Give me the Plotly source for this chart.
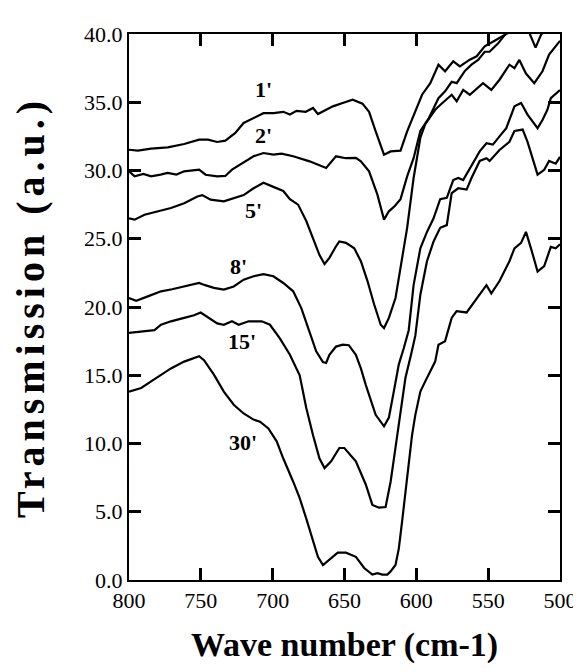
import plotly.graph_objects as go

# ---- data ----
x_1 = [800, 793.8, 784.6, 773, 761.6, 751.2, 745, 738.6, 732.9, 726, 720.2, 713.3, 706.4, 699.5,
       692.6, 688, 683.4, 677, 671.9, 668.5, 664, 658.1, 651.3, 644.3, 637.5, 632.9, 628.3, 622.5,
       617.9, 611, 606.4, 599.5, 596, 590.3, 584.6, 580, 574.3, 569.7, 562.8, 558, 552.4, 545.5,
       540.9, 536.3, 530, 524, 517, 510, 500]
y_1 = [31.52, 31.45, 31.6, 31.7, 31.94, 32.26, 32.26, 32.09, 32.19, 32.75, 33.48, 33.85, 34.2, 34.2,
       34.3, 34.1, 34.37, 34.3, 34.58, 34.14, 34.4, 34.7, 34.95, 35.19, 34.9, 34.3, 32.87, 31.16,
       31.4, 31.45, 32.87, 34.58, 35.55, 36.4, 37.75, 37.27, 38.0, 37.63, 38.12, 38.37, 39.1, 39.5,
       39.8, 40.07, 40.8, 41.3, 40.4, 41.2, 41.6]

x_2 = [800, 796.1, 790, 784.6, 778, 773.1, 767, 761.6, 751.2, 746.7, 738.6, 733, 728.3, 722.5,
       713.3, 706.4, 699.5, 693.8, 685.7, 674.3, 662.8, 655.9, 649, 642.1, 638.6, 632.9, 627.1,
       622.5, 619.1, 615, 611, 606.4, 601.9, 597.2, 591.5, 584.6, 580, 575.4, 571.9, 566.2, 561.6,
       557, 552.4, 549, 543.2, 537.4, 530, 524, 521, 517, 513, 508, 500]
y_2 = [29.94, 29.57, 29.75, 29.57, 29.7, 29.82, 29.7, 29.94, 30.06, 29.69, 29.57, 29.6, 30.06, 30.43,
       31.04, 31.28, 31.16, 31.23, 31.04, 30.67, 30.18, 31.04, 30.9, 30.92, 30.67, 29.94, 28.23,
       26.4, 27.01, 27.4, 27.9, 29.57, 30.9, 32.9, 33.8, 35.3, 35.8, 36.5, 36.4, 37.3, 37.75,
       38.1, 38.7, 38.7, 39.3, 40.07, 40.5, 40.6, 40.0, 39.0, 40.0, 40.3, 40.6]

x_5 = [800, 796.1, 789.2, 780, 770.8, 761.6, 752.4, 749, 743.2, 734, 727.1, 720.2, 713.3, 706.4,
       699.5, 692.6, 688, 682.3, 676.6, 671.9, 667.4, 663.9, 660.5, 655.9, 653.6, 649, 643.2, 638.6,
       634, 629.4, 624.8, 622.5, 619.1, 614.5, 611, 606.4, 601.9, 597.2, 593.8, 586.9, 583.4, 578.8,
       575.4, 571.9, 567.4, 562.8, 558.1, 553.6, 547.8, 542.1, 535.2, 531.7, 528.3, 523.7, 517.9,
       512.2, 507.6, 504, 500]
y_5 = [26.5, 26.4, 26.76, 27.0, 27.25, 27.6, 28.1, 28.2, 27.86, 27.74, 27.98, 28.2, 28.7, 29.1,
       28.8, 28.5, 27.9, 27.5, 26.3, 25.05, 23.8, 23.15, 23.6, 24.45, 24.8, 24.7, 24.3, 23.35,
       21.9, 20.2, 18.7, 18.46, 19.2, 20.66, 23.0, 25.8, 29.45, 32.4, 33.4, 34.45, 34.8, 35.2,
       35.55, 35.07, 35.9, 35.55, 36.0, 36.4, 35.9, 36.65, 37.75, 37.5, 38.1, 37.1, 36.4,
       37.27, 38.5, 39.0, 39.5]

x_8 = [800, 795, 786.9, 777.7, 770, 761.6, 751.2, 747, 740.9, 734, 727.1, 720.2, 713.3, 706.4,
       699.5, 692.6, 685.7, 680, 674.3, 669.7, 665, 662.8, 660.5, 655.9, 651.2, 647, 642.1, 638.6,
       635.2, 632.9, 628.3, 622.5, 619.1, 615.7, 612.2, 608.7, 605.3, 601.9, 597.2, 592.6, 588,
       583.4, 578.8, 574.3, 570.8, 567.4, 561.6, 555.9, 551.2, 546.7, 542.1, 537.4, 531.7, 527.1,
       522.6, 515.6, 512.2, 508.8, 506.4, 504, 500]
y_8 = [20.66, 20.46, 20.78, 21.15, 21.3, 21.5, 21.76, 21.6, 21.4, 21.27, 21.5, 22.0, 22.25, 22.4,
       22.25, 21.76, 21.15, 19.9, 18.2, 16.75, 15.97, 15.9, 16.5, 17.1, 17.24, 17.2, 16.5, 15.5,
       14.3, 13.6, 12.1, 11.26, 11.9, 13.8, 15.8, 17.0, 18.3, 21.6, 24.3, 25.5, 26.5,
       27.9, 28.0, 29.3, 29.45, 29.3, 30.4, 31.4, 32.0, 31.9, 32.5, 33.1, 34.7, 34.95,
       34.1, 33.1, 33.7, 34.45, 35.3, 35.55, 35.9]

x_15 = [800, 791.5, 782.3, 777.7, 770.8, 761.6, 754.7, 750.1, 745.5, 738.6, 734, 728.3, 723.7,
        716.8, 707.6, 701.9, 695, 688, 681.2, 676.6, 671.9, 667.4, 663.9, 659.3, 653.6, 650.1,
        642.1, 635.2, 630.6, 626, 621.4, 617.9, 614.5, 611, 607.6, 603.5, 600.7, 597.2, 592.6,
        588, 583.4, 578.8, 575.4, 570.8, 565, 561.6, 555.9, 551.2, 549, 542.1, 535.2, 531.7, 526,
        522.6, 515.6, 511, 507.6, 503, 500]
y_15 = [18.1, 18.2, 18.3, 18.7, 18.95, 19.2, 19.4, 19.6, 19.3, 18.8, 18.7, 18.95, 18.7,
        18.95, 18.95, 18.7, 17.7, 16.5, 15.0, 12.6, 10.6, 8.9, 8.2, 8.7, 9.67, 9.67,
        8.7, 7.0, 5.5, 5.3, 5.35, 7.2, 9.7, 12.3, 14.8, 16.6, 17.9, 20.9, 23.35,
        24.8, 25.8, 26.0, 28.35, 28.7, 28.6, 29.45, 30.7, 30.9, 30.7, 31.5, 32.1, 32.9, 33.0,
        32.1, 29.7, 30.05, 30.7, 30.5, 31.0]

x_30 = [800, 791.5, 784.6, 777.7, 770.8, 761.6, 751.2, 747.8, 740.9, 734, 727.1, 720.2, 713.3,
        708.8, 703, 697.2, 692.6, 685.7, 681.2, 676.6, 672, 668.5, 665, 660.5, 654.7, 649, 642.1,
        636.3, 632.9, 630.6, 627.1, 623.6, 620.2, 617.9, 614.5, 612.2, 609.9, 607.6, 605.3, 603,
        600.7, 597.2, 593.8, 586.9, 584.6, 580, 575.4, 572, 565, 555.9, 551.2, 547.8, 542.1, 535.2,
        531.7, 527.1, 523.7, 520.2, 515.6, 511, 506.4, 503, 500]
y_30 = [13.8, 14.07, 14.55, 15.04, 15.5, 16.0, 16.4, 16.1, 15.04, 13.8, 12.84, 12.2, 11.75,
        11.6, 11.1, 10.16, 8.9, 7.2, 6.0, 4.5, 2.8, 1.7, 1.1, 1.5, 2.0, 2.0, 1.7,
        0.88, 0.63, 0.4, 0.5, 0.4, 0.4, 0.63, 1.1, 2.3, 4.3, 6.5, 8.7, 10.6,
        12.1, 13.8, 14.55, 16.0, 17.24, 17.5, 19.2, 19.7, 19.6, 20.9, 21.6, 21.0, 21.9, 23.35,
        24.3, 24.7, 25.5, 24.3, 22.6, 23.0, 24.4, 24.3, 24.6]

series = [("1'", x_1, y_1), ("2'", x_2, y_2), ("5'", x_5, y_5),
          ("8'", x_8, y_8), ("15'", x_15, y_15), ("30'", x_30, y_30)]

# curve labels: text, x, y
label_text = ["1'", "2'", "5'", "8'", "15'", "30'"]
label_x = [706.4, 706.4, 713.3, 723.7, 721.4, 720.7]
label_y = [35.9, 32.6, 27.1, 23.0, 17.5, 10.1]

# axis ticks: x every 50 from 500, y every 5 from 0
x_tick0, x_dtick = 500, 50
y_tick0, y_dtick = 0, 5

SERIF = "Liberation Serif, Times New Roman, serif"

fig = go.Figure()
for name, xs, ys in series:
    fig.add_trace(go.Scatter(x=xs, y=ys, mode="lines", name=name,
                             line=dict(color="black", width=2.2), showlegend=False,
                             hoverinfo="skip"))

for t, lx, ly in zip(label_text, label_x, label_y):
    fig.add_annotation(x=lx, y=ly, text=f"<b>{t}</b>", showarrow=False,
                       font=dict(family=SERIF, size=22, color="black"))

fig.update_xaxes(
    range=[800, 500], tickmode="linear", tick0=x_tick0, dtick=x_dtick,
    showline=True, linecolor="black", linewidth=2, mirror="ticks",
    ticks="inside", ticklen=12, tickwidth=2.5, tickcolor="black",
    showgrid=False, zeroline=False,
    tickfont=dict(family=SERIF, size=22, color="black"),
    title=dict(text="<b>Wave number (cm-1)</b>", font=dict(family=SERIF, size=34, color="black"),
               standoff=20),
)
fig.update_yaxes(
    range=[0, 40], tickmode="linear", tick0=y_tick0, dtick=y_dtick, tickformat=".1f",
    showline=True, linecolor="black", linewidth=2, mirror="ticks",
    ticks="inside", ticklen=12, tickwidth=2.5, tickcolor="black",
    showgrid=False, zeroline=False,
    tickfont=dict(family=SERIF, size=22, color="black"),
    title=dict(text='<b><span style="letter-spacing:5px">Transmission (a.u.)</span></b>',
               font=dict(family=SERIF, size=40, color="black"), standoff=30),
)

fig.update_layout(
    width=581, height=672,
    margin=dict(l=121, r=25, t=26, b=100),
    paper_bgcolor="white", plot_bgcolor="white",
)

fig.write_html("out.html")
